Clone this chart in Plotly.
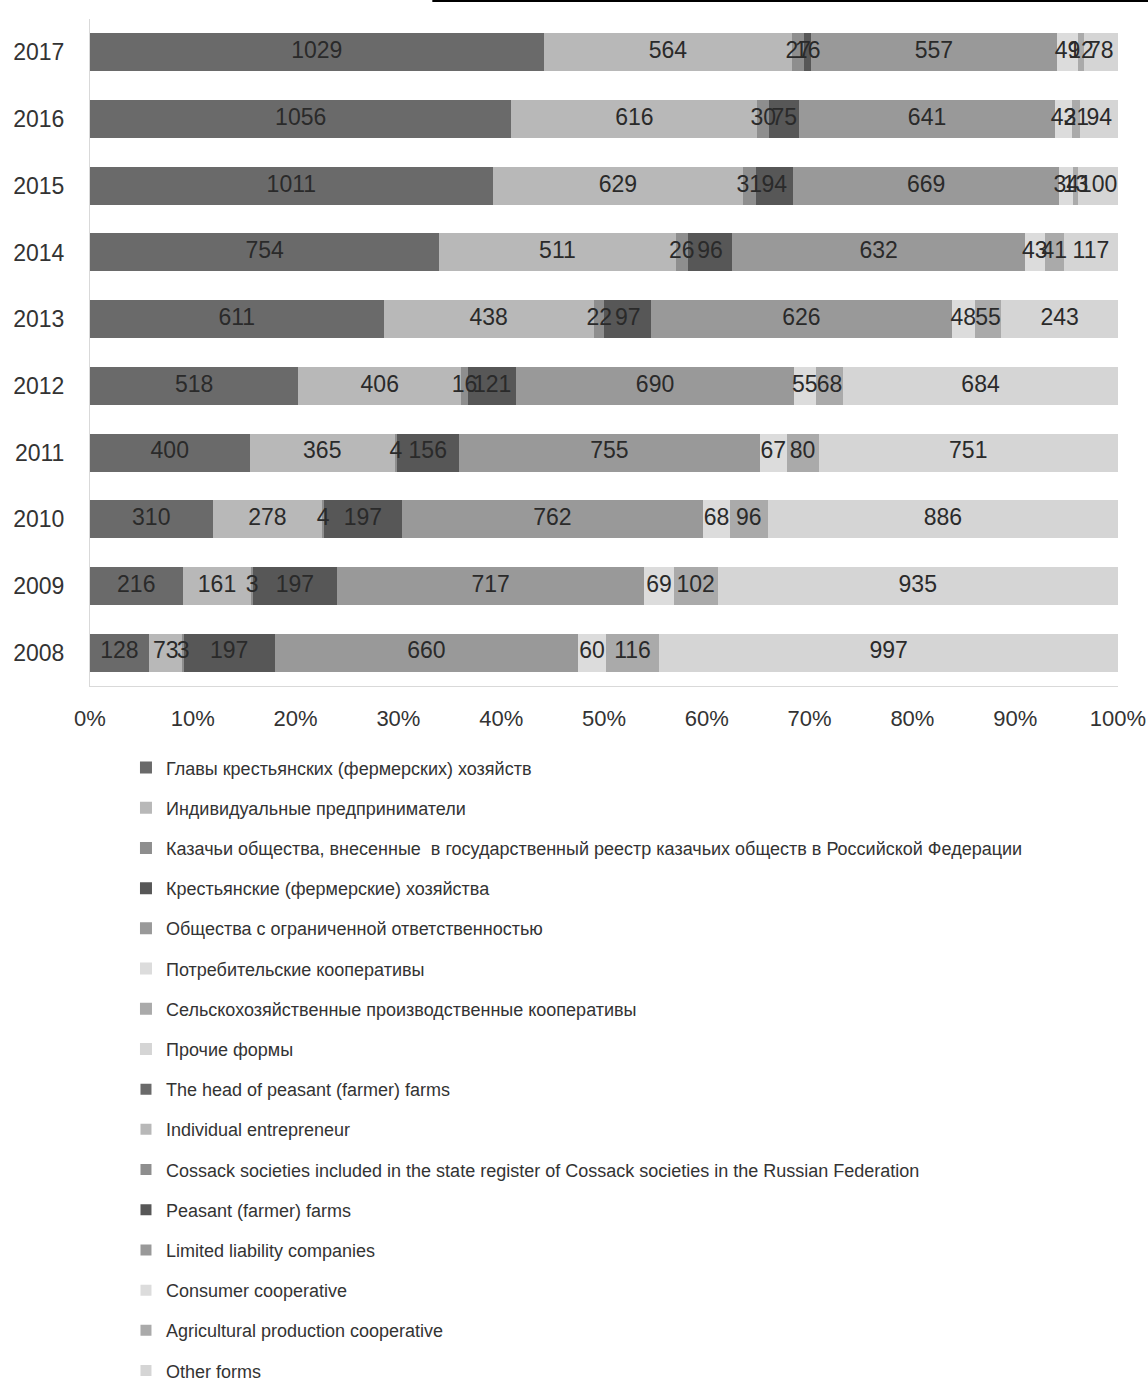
import plotly.graph_objects as go

years = ["2008", "2009", "2010", "2011", "2012", "2013", "2014", "2015", "2016", "2017"]

heads = [128, 216, 310, 400, 518, 611, 754, 1011, 1056, 1029]
individual = [73, 161, 278, 365, 406, 438, 511, 629, 616, 564]
cossack = [3, 3, 4, 4, 16, 22, 26, 31, 30, 27]
peasant = [197, 197, 197, 156, 121, 97, 96, 94, 75, 16]
llc = [660, 717, 762, 755, 690, 626, 632, 669, 641, 557]
consumer = [60, 69, 68, 67, 55, 48, 43, 34, 43, 49]
agri = [116, 102, 96, 80, 68, 55, 41, 13, 21, 12]
other = [997, 935, 886, 751, 684, 243, 117, 100, 94, 78]

names_ru = [
    "Главы крестьянских (фермерских) хозяйств",
    "Индивидуальные предприниматели",
    "Казачьи общества, внесенные  в государственный реестр казачьих обществ в Российской Федерации",
    "Крестьянские (фермерские) хозяйства",
    "Общества с ограниченной ответственностью",
    "Потребительские кооперативы",
    "Сельскохозяйственные производственные кооперативы",
    "Прочие формы",
]
names_en = [
    "The head of peasant (farmer) farms",
    "Individual entrepreneur",
    "Cossack societies included in the state register of Cossack societies in the Russian Federation",
    "Peasant (farmer) farms",
    "Limited liability companies",
    "Consumer cooperative",
    "Agricultural production cooperative",
    "Other forms",
]
colors = ["#6a6a6a", "#b8b8b8", "#8e8e8e", "#575757", "#999999", "#dcdcdc", "#aaaaaa", "#d5d5d5"]
x_ticks = [0, 10, 20, 30, 40, 50, 60, 70, 80, 90, 100]
x_ticktext = ["%d%%" % v for v in x_ticks]

series = [heads, individual, cossack, peasant, llc, consumer, agri, other]

# normalise each year to 100 %
totals = [sum(s[j] for s in series) for j in range(len(years))]
pct = [[100.0 * s[j] / totals[j] for j in range(len(years))] for s in series]

FONT = "Liberation Sans, Arial, sans-serif"
fig = go.Figure()
for i in range(8):
    fig.add_trace(go.Bar(
        y=years, x=pct[i], orientation="h", name=names_ru[i],
        marker=dict(color=colors[i], line=dict(width=0)),
        legendgroup="ru%d" % i, hoverinfo="skip",
    ))
for i in range(8):
    fig.add_trace(go.Scatter(
        y=[None], x=[None], mode="markers", name=names_en[i],
        marker=dict(color=colors[i], symbol="square", size=11),
        legendgroup="en%d" % i, showlegend=True, hoverinfo="skip",
    ))

# data labels on top of all bars (centre of each segment)
cum = [0.0] * len(years)
for i in range(8):
    mids = []
    for j in range(len(years)):
        mids.append(cum[j] + pct[i][j] / 2.0)
        cum[j] += pct[i][j]
    fig.add_trace(go.Scatter(
        y=years, x=mids, mode="text", text=[str(v) for v in series[i]],
        textposition="middle center",
        textfont=dict(size=23, color="#2a2a2a", family=FONT),
        showlegend=False, hoverinfo="skip", cliponaxis=False,
    ))

fig.update_layout(
    width=1148, height=1381,
    barmode="stack", bargap=0.43,
    paper_bgcolor="white", plot_bgcolor="white",
    margin=dict(l=90, r=30, t=19, b=695, autoexpand=False),
    font=dict(family=FONT, color="#333333"),
    showlegend=True,
    legend=dict(
        orientation="v", x=0.035, xanchor="left", y=-0.095, yanchor="top",
        traceorder="grouped", tracegroupgap=13.8,
        font=dict(size=18, color="#333333", family=FONT),
        itemwidth=30, bgcolor="rgba(0,0,0,0)",
    ),
    xaxis=dict(
        range=[0, 100], tickvals=x_ticks, ticktext=x_ticktext,
        showgrid=False, zeroline=False, showline=True, linecolor="#d9d9d9",
        linewidth=1, ticks="", tickfont=dict(size=22, color="#333333"),
        ticklabelstandoff=13,
    ),
    yaxis=dict(
        type="category", categoryorder="array", categoryarray=years,
        showgrid=False, zeroline=False, showline=True, linecolor="#d9d9d9",
        linewidth=1, ticks="", tickfont=dict(size=23, color="#333333"),
        ticklabelstandoff=20,
    ),
    shapes=[dict(type="line", xref="paper", yref="paper", x0=0.333, x1=1.03,
                 y0=1.027, y1=1.027, line=dict(color="black", width=2))],
)

fig.write_html("out.html", post_script="document.body.style.margin='0';",
               config={"displayModeBar": False})
